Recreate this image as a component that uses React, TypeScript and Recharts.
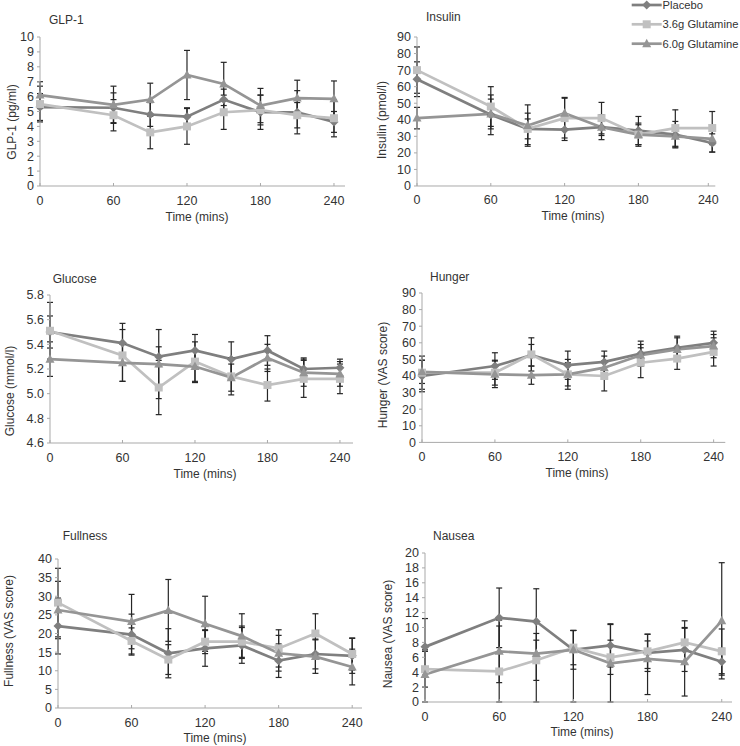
import React from 'react'
import { LineChart, Line, XAxis, YAxis, ErrorBar } from 'recharts'

const times = [0, 60, 90, 120, 150, 180, 210, 240]
const timeTicks = [0, 60, 120, 180, 240]
const seriesNames = ['Placebo', '3.6g Glutamine', '6.0g Glutamine']

// GLP-1 (pg/ml)
const glpPlacebo = [5.3, 5.25, 4.8, 4.65, 5.8, 4.95, 4.95, 4.3]
const glpPlaceboErr = [0.9, 1.0, 0.8, 0.6, 0.7, 1.15, 1.45, 0.7]
const glpLow = [5.5, 4.75, 3.6, 4.0, 4.95, 5.1, 4.75, 4.55]
const glpLowErr = [1.2, 1.05, 1.1, 1.2, 1.15, 1.0, 0.85, 1.25]
const glpHigh = [6.1, 5.45, 5.8, 7.45, 6.85, 5.4, 5.9, 5.85]
const glpHighErr = [0.9, 1.25, 1.1, 1.65, 1.45, 1.15, 1.2, 1.2]

// Insulin (pmol/l)
const insPlacebo = [64.5, 43, 34.5, 34, 35.5, 33.5, 31, 26]
const insPlaceboErr = [10.5, 12, 9.5, 6.5, 7.5, 8.5, 8, 5.5]
const insLow = [70, 48, 34.5, 41, 41, 31, 35, 35]
const insLowErr = [14, 12, 6, 12, 9.5, 6, 11, 10]
const insHigh = [41, 43.5, 36.5, 44, 35.5, 31, 30, 28.5]
const insHighErr = [6.5, 9, 12.5, 9.5, 5, 7, 6.5, 8]

// Glucose (mmol/l)
const gluPlacebo = [5.5, 5.41, 5.3, 5.35, 5.28, 5.35, 5.2, 5.21]
const gluPlaceboErr = [0.13, 0.16, 0.08, 0.13, 0.14, 0.12, 0.09, 0.07]
const gluLow = [5.51, 5.31, 5.05, 5.26, 5.14, 5.07, 5.12, 5.12]
const gluLowErr = [0.23, 0.21, 0.22, 0.16, 0.15, 0.13, 0.15, 0.12]
const gluHigh = [5.28, 5.25, 5.24, 5.22, 5.13, 5.29, 5.17, 5.16]
const gluHighErr = [0.14, 0.15, 0.28, 0.13, 0.11, 0.11, 0.11, 0.1]

// Hunger (VAS)
const hunPlacebo = [40, 46, 52.5, 46.5, 48.5, 53.5, 57, 60]
const hunPlaceboErr = [9.5, 8, 6.5, 8.5, 6.5, 7.5, 7, 7]
const hunLow = [42, 42, 53, 41, 40, 48, 50.5, 54.5]
const hunLowErr = [10, 7.5, 10, 9, 9, 9, 6.5, 8.5]
const hunHigh = [42.5, 41, 40.5, 41, 45, 52.5, 56, 58]
const hunHighErr = [7, 8, 5.5, 7, 7, 6.5, 7, 7]

// Fullness (VAS)
const fulPlacebo = [22, 19.7, 14.7, 16, 16.8, 12.7, 14.5, 14]
const fulPlaceboErr = [7.5, 5.5, 6.6, 4.8, 4.8, 4.5, 4, 4.7]
const fulLow = [28.3, 18, 13, 17.8, 17.8, 16, 20, 14.5]
const fulLowErr = [9.2, 3.5, 4, 3.2, 4.2, 5, 5.3, 4.3]
const fulHigh = [26.3, 23.2, 26.2, 22.6, 19.3, 14.7, 13.8, 11]
const fulHighErr = [7.7, 7.3, 8.3, 7.4, 6, 4.8, 4.5, 4.8]

// Nausea (VAS) - [down, up] where the bar is cut at 0
const nauPlacebo = [7.4, 11.3, 10.8, 7.0, 7.6, 6.6, 7.0, 5.4]
const nauPlaceboErr = [3.8, 4, 4.4, 2.6, 2.9, 2.5, 2.9, 1.8]
const nauLow = [4.4, 4.1, 5.6, 7.3, 6.0, 6.8, 8.0, 6.8]
const nauLowErr: any[] = [2.4, [4.1, 6.1], 2.7, 2.3, 2.3, 2.3, 2.9, 3.0]
const nauHigh = [3.7, 6.8, 6.5, 7.0, 5.2, 5.8, 5.4, 10.9]
const nauHighErr: any[] = [[3.7, 3.3], 4.2, [6.5, 2.7], [7.0, 2.6], 5.2, [4.8, 2.4], 4.6, 7.8]

const rows = (p: number[], pe: any[], l: number[], le: any[], h: number[], he: any[]) =>
  times.map((t, i) => ({ t, p: p[i], pe: pe[i], l: l[i], le: le[i], h: h[i], he: he[i] }))

const range = (a: number, b: number, s: number) => {
  const out: number[] = []
  for (let v = a; v <= b + 1e-9; v += s) out.push(Math.round(v * 10) / 10)
  return out
}

const FONT = '"Liberation Sans", Arial, sans-serif'
const TXT = '#333333'
const AXIS = '#a9a9a9'
const TICK_FS = 12.5
const LABEL_FS = 12
const LEGEND_FS = 11.2
const COLORS = ['#7f7f7f', '#c0c0c0', '#959595']
const SHAPES = ['diamond', 'square', 'triangle']

function drawMarker(shape: string, color: string, cx: number, cy: number, key: any) {
  if (shape === 'diamond')
    return <path key={key} d={`M${cx},${cy - 4.5}L${cx + 4.5},${cy}L${cx},${cy + 4.5}L${cx - 4.5},${cy}Z`} fill={color} />
  if (shape === 'square')
    return <rect key={key} x={cx - 4} y={cy - 4} width={8} height={8} fill={color} />
  return <path key={key} d={`M${cx},${cy - 5}L${cx + 4.5},${cy + 3.5}L${cx - 4.5},${cy + 3.5}Z`} fill={color} />
}

const dotFor = (i: number) => (props: any) => drawMarker(SHAPES[i], COLORS[i], props.cx, props.cy, props.index)

function TimeTick({ x, y, payload }: any) {
  return (
    <g>
      <line x1={x} x2={x} y1={y - 3} y2={y} stroke={AXIS} />
      <text x={x} y={y + 18.5} textAnchor="middle" fontSize={TICK_FS} fill={TXT} fontFamily={FONT}>{payload.value}</text>
    </g>
  )
}

interface PanelDef {
  title: string; yLabel: string; data: any[]; yDomain: [number, number]; yTicks: number[]; decimals: number
  x0: number; xEnd: number; yTop: number; yBot: number; xMax: number
  titleX: number; titleY: number; yLabelX: number; yLabelY: number; xLabelX: number; xLabelY: number
}

const panels: PanelDef[] = [
  { title: 'GLP-1', yLabel: 'GLP-1 (pg/ml)', data: rows(glpPlacebo, glpPlaceboErr, glpLow, glpLowErr, glpHigh, glpHighErr),
    yDomain: [0, 10], yTicks: range(0, 10, 1), decimals: 0,
    x0: 40, xEnd: 345, yTop: 37, yBot: 186, xMax: 249,
    titleX: 49, titleY: 20, yLabelX: 12, yLabelY: 122, xLabelX: 197, xLabelY: 216.5 },
  { title: 'Insulin', yLabel: 'Insulin (pmol/l)', data: rows(insPlacebo, insPlaceboErr, insLow, insLowErr, insHigh, insHighErr),
    yDomain: [0, 90], yTicks: range(0, 90, 10), decimals: 0,
    x0: 416.7, xEnd: 715, yTop: 37, yBot: 186, xMax: 242.5,
    titleX: 426, titleY: 17, yLabelX: 381.7, yLabelY: 120, xLabelX: 573, xLabelY: 216 },
  { title: 'Glucose', yLabel: 'Glucose (mmol/l)', data: rows(gluPlacebo, gluPlaceboErr, gluLow, gluLowErr, gluHigh, gluHighErr),
    yDomain: [4.6, 5.8], yTicks: range(4.6, 5.8, 0.2), decimals: 1,
    x0: 50, xEnd: 353, yTop: 295, yBot: 443, xMax: 250.8,
    titleX: 52.7, titleY: 279, yLabelX: 10, yLabelY: 391, xLabelX: 205, xLabelY: 474 },
  { title: 'Hunger', yLabel: 'Hunger (VAS score)', data: rows(hunPlacebo, hunPlaceboErr, hunLow, hunLowErr, hunHigh, hunHighErr),
    yDomain: [0, 90], yTicks: range(0, 90, 10), decimals: 0,
    x0: 421.7, xEnd: 725, yTop: 293.3, yBot: 442.7, xMax: 249.6,
    titleX: 430, titleY: 277, yLabelX: 382.7, yLabelY: 375, xLabelX: 577, xLabelY: 472.7 },
  { title: 'Fullness', yLabel: 'Fullness (VAS score)', data: rows(fulPlacebo, fulPlaceboErr, fulLow, fulLowErr, fulHigh, fulHighErr),
    yDomain: [0, 40], yTicks: range(0, 40, 5), decimals: 0,
    x0: 58, xEnd: 362, yTop: 559, yBot: 708, xMax: 248,
    titleX: 62.7, titleY: 535.7, yLabelX: 8.5, yLabelY: 631, xLabelX: 215, xLabelY: 738 },
  { title: 'Nausea', yLabel: 'Nausea (VAS score)', data: rows(nauPlacebo, nauPlaceboErr, nauLow, nauLowErr, nauHigh, nauHighErr),
    yDomain: [0, 20], yTicks: range(0, 20, 2), decimals: 0,
    x0: 425, xEnd: 732, yTop: 552.7, yBot: 701.7, xMax: 248.3,
    titleX: 433, titleY: 536, yLabelX: 388, yLabelY: 634, xLabelX: 582, xLabelY: 731.7 },
]

const textStyle: React.CSSProperties = { position: 'absolute', fontFamily: FONT, fontSize: LABEL_FS, color: TXT, lineHeight: '14px', whiteSpace: 'nowrap' }

function Panel({ d }: { d: PanelDef }) {
  const w = d.xEnd - d.x0 + 45
  const h = d.yBot - d.yTop + 40
  const keys = [['p', 'pe'], ['l', 'le'], ['h', 'he']]
  return (
    <>
      <div style={{ ...textStyle, left: d.titleX, top: d.titleY - 7 }}>{d.title}</div>
      <div style={{ ...textStyle, left: d.yLabelX, top: d.yLabelY, transform: 'translate(-50%, -50%) rotate(-90deg)' }}>{d.yLabel}</div>
      <div style={{ ...textStyle, left: d.xLabelX, top: d.xLabelY, transform: 'translate(-50%, -50%)' }}>Time (mins)</div>
      <div style={{ position: 'absolute', left: d.x0 - 40, top: d.yTop - 10 }}>
        <LineChart width={w} height={h} data={d.data} margin={{ top: 10, right: 5, left: 0, bottom: 0 }} style={{ overflow: 'visible' }}>
          <XAxis type="number" dataKey="t" domain={[0, d.xMax]} ticks={timeTicks} height={30}
            axisLine={{ stroke: AXIS }} tickLine={false} tickSize={0} tickMargin={0} tick={<TimeTick />} />
          <YAxis type="number" domain={d.yDomain} ticks={d.yTicks} width={40} interval={0}
            axisLine={{ stroke: AXIS }} tickLine={{ stroke: AXIS }} tickSize={3} tickMargin={3}
            tickFormatter={(v: number) => v.toFixed(d.decimals)}
            tick={{ fontSize: TICK_FS, fill: TXT, fontFamily: FONT }} />
          {keys.map(([k, e], i) => (
            <Line key={k} type="linear" dataKey={k} name={seriesNames[i]} stroke={COLORS[i]} strokeWidth={2.7}
              dot={dotFor(i)} activeDot={false} isAnimationActive={false}>
              <ErrorBar dataKey={e} direction="y" width={3} stroke="#262626" strokeWidth={1.2} isAnimationActive={false} />
            </Line>
          ))}
        </LineChart>
      </div>
    </>
  )
}

function LegendBox() {
  const rowsY = [5, 24.3, 43.7]
  return (
    <div style={{ position: 'absolute', left: 628, top: 0, width: 112, height: 52 }}>
      <svg width={36} height={52} style={{ position: 'absolute', left: 0, top: 0 }}>
        {seriesNames.map((n, i) => (
          <g key={n}>
            <line x1={3.7} x2={33.7} y1={rowsY[i]} y2={rowsY[i]} stroke={COLORS[i]} strokeWidth={2.7} />
            {drawMarker(SHAPES[i], COLORS[i], 18.7, rowsY[i], n)}
          </g>
        ))}
      </svg>
      {seriesNames.map((n, i) => (
        <div key={n} style={{ ...textStyle, fontSize: LEGEND_FS, left: 34.5, top: rowsY[i] - 7 }}>{n}</div>
      ))}
    </div>
  )
}

export default function App() {
  return (
    <div style={{ position: 'absolute', left: 0, top: 0, width: 740, height: 746, background: '#fff' }}>
      {panels.map(p => <Panel key={p.title} d={p} />)}
      <LegendBox />
    </div>
  )
}
